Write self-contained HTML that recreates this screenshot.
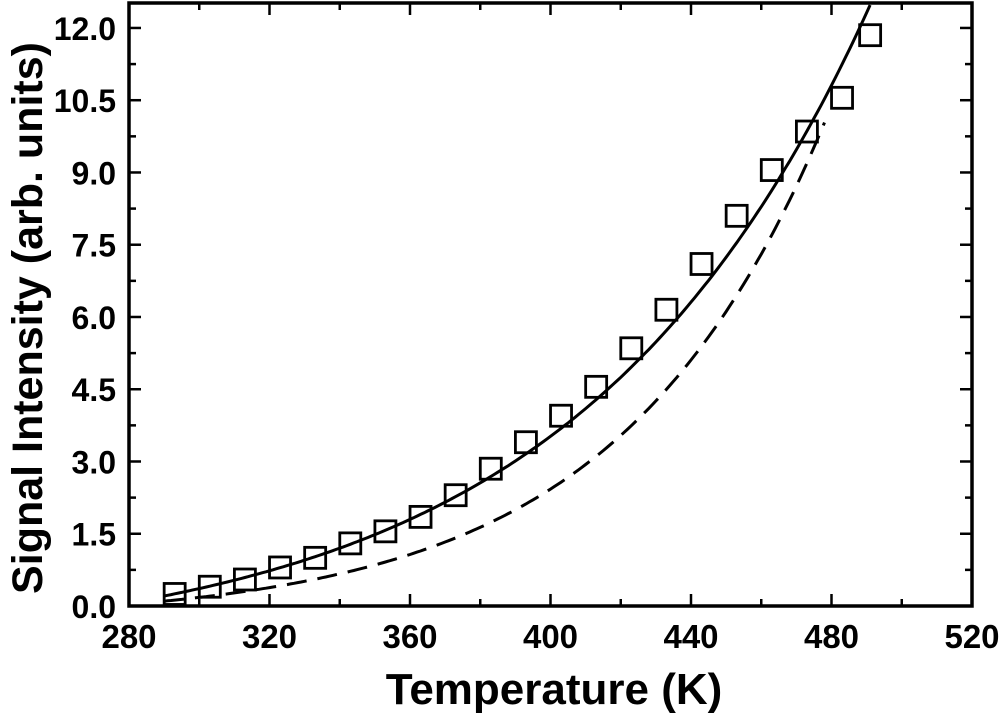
<!DOCTYPE html>
<html><head><meta charset="utf-8"><style>
html,body{margin:0;padding:0;background:#fff;width:1000px;height:714px;overflow:hidden}
text{font-family:"Liberation Sans",Arial,sans-serif;font-weight:bold;fill:#000}
</style></head><body>
<svg id="s" width="1000" height="714" xmlns="http://www.w3.org/2000/svg">
<g id="g"></g>
<text x="554" y="704" font-size="44" text-anchor="middle">Temperature (K)</text>
<text transform="translate(42,318) rotate(-90)" font-size="43" text-anchor="middle">Signal Intensity (arb. units)</text>
</svg>
<script>
var L=129,R=972,T=3,B=606;
function X(t){return L+(t-280)*(R-L)/240}
function Y(v){return B-v*48.17}
var h='';
h+='<rect x="'+L+'" y="'+T+'" width="'+(R-L)+'" height="'+(B-T)+'" fill="none" stroke="#000" stroke-width="3.5"/>';
for(var t=280;t<=520;t+=20){var x=X(t),len=(t%40==0)?12:7;
 h+='<line x1="'+x+'" y1="'+B+'" x2="'+x+'" y2="'+(B-len)+'" stroke="#000" stroke-width="2.5"/>';
 h+='<line x1="'+x+'" y1="'+T+'" x2="'+x+'" y2="'+(T+len)+'" stroke="#000" stroke-width="2.5"/>';
 if(t%40==0)h+='<text x="'+x+'" y="648" font-size="33" text-anchor="middle">'+t+'</text>';}
for(var i=0;i<=16;i++){var v=i*0.75,y=Y(v),len=(i%2==0)?12:7;
 if(y<T)continue;
 h+='<line x1="'+L+'" y1="'+y+'" x2="'+(L+len)+'" y2="'+y+'" stroke="#000" stroke-width="2.5"/>';
 h+='<line x1="'+R+'" y1="'+y+'" x2="'+(R-len)+'" y2="'+y+'" stroke="#000" stroke-width="2.5"/>';
 if(i%2==0)h+='<text x="116" y="'+(y+12)+'" font-size="32" text-anchor="end">'+v.toFixed(1)+'</text>';}
function f(t){return 1.208*Math.exp(0.012*(t-290))-1.0}
function g(t){return 0.424*Math.exp(0.017*(t-290))-0.324}
var p='';for(var t=290;t<=491;t+=1){p+=(t==290?'M':'L')+X(t).toFixed(1)+' '+Y(Math.max(f(t),0.2)).toFixed(1);}
h+='<path d="'+p+'" fill="none" stroke="#000" stroke-width="3"/>';
p='';for(var t=290;t<=478;t+=1){p+=(t==290?'M':'L')+X(t).toFixed(1)+' '+Y(Math.max(g(t),0.1)).toFixed(1);}
h+='<path d="'+p+'" fill="none" stroke="#000" stroke-width="3" stroke-dasharray="20 11"/>';
var d=[[293,0.25],[303,0.4],[313,0.55],[323,0.8],[333,1.0],[343,1.3],[353,1.55],[363,1.85],[373,2.3],[383,2.85],[393,3.4],[403,3.95],[413,4.55],[423,5.35],[433,6.15],[443,7.1],[453,8.1],[463,9.05],[473,9.85],[483,10.55],[491,11.85]];
d.forEach(function(q){h+='<rect x="'+(X(q[0])-10.5)+'" y="'+(Y(q[1])-10.5)+'" width="21" height="21" fill="none" stroke="#000" stroke-width="2.8"/>';});
document.getElementById('g').innerHTML=h;
</script>
</body></html>
